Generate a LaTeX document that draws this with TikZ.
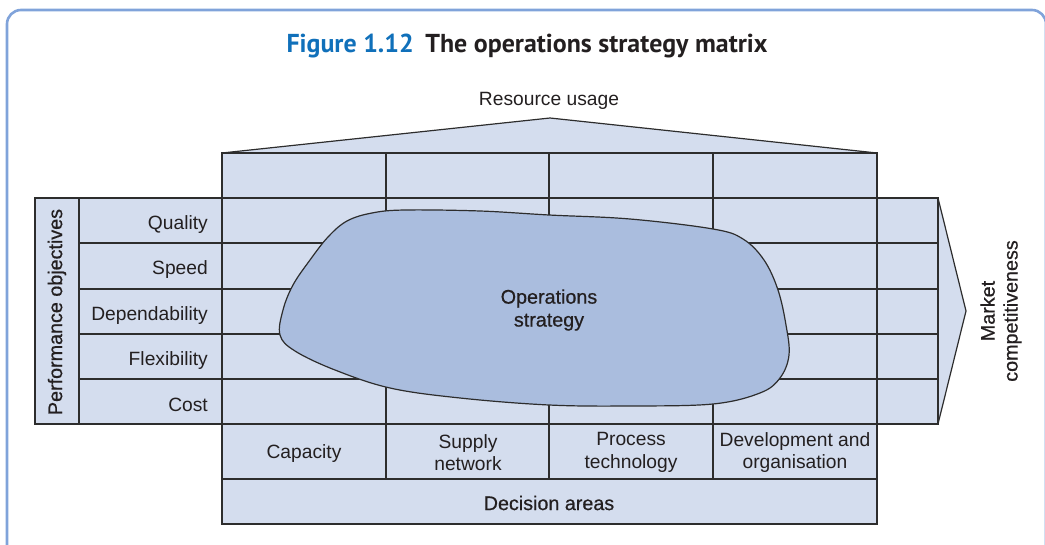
\documentclass[tikz,border=0pt]{standalone}
\usepackage{fontspec}
\setmainfont{Liberation Sans}
\newfontfamily\titlefont{PT Sans}
\newfontfamily\medfont[FakeBold=0.6]{Liberation Sans}
\definecolor{cellfill}{RGB}{212,221,238}
\definecolor{blobfill}{RGB}{170,189,222}
\definecolor{framecol}{RGB}{128,163,218}
\definecolor{titleblue}{RGB}{16,112,186}
\definecolor{inkcol}{RGB}{35,31,32}
\definecolor{linecol}{RGB}{45,45,45}
\tikzset{
  cell/.style={fill=cellfill, draw=linecol, line width=1.2bp},
  gridline/.style={draw=linecol, line width=1.2bp},
  blob/.style={fill=blobfill, draw=linecol, line width=1.2bp},
  lbl/.style={inner sep=0pt, text=inkcol, font=\fontsize{19.3}{22.5}\selectfont, align=center},
  rowlbl/.style={lbl, anchor=base east},
  headlbl/.style={lbl, font=\medfont\fontsize{19.8}{23}\selectfont},
}
\begin{document}
\begin{tikzpicture}[x=1bp, y=-1bp]
\useasboundingbox (0,0) rectangle (1045,545);
% frame
\draw[framecol, line width=2.6bp, rounded corners=14bp] (7,10) rectangle (1046,560);
% title
\node[anchor=base, inner sep=0pt] (title) at (527,53) {\titlefont\bfseries\fontsize{26}{29}\selectfont\color{titleblue}Figure 1.12\hspace{0.45em}\color{inkcol}The operations strategy matrix};
% roof
\draw[cell, line join=bevel] (222,153) -- (550,118) -- (877,153) -- cycle;
% top row
\draw[cell] (222,153) rectangle (877,198);
% left panel
\draw[cell] (35,198) rectangle (79,424);
\draw[cell] (79,198) rectangle (222,424);
% main grid
\draw[cell] (222,198) rectangle (877,424);
% right column and arrow
\draw[cell] (938,198) -- (966,311) -- (938,424);
\draw[cell] (877,198) rectangle (938,424);
% bottom rows
\draw[cell] (222,424) rectangle (877,479);
\draw[cell] (222,479) rectangle (877,524);
% grid lines
\foreach \yy in {243,289,334,379} \draw[gridline] (79,\yy) -- (938,\yy);
\foreach \xx in {386,549,713} \draw[gridline] (\xx,153) -- (\xx,479);
% blob
\draw[blob] plot[smooth cycle, tension=0.6] coordinates {
 (280,335) (283,310) (293,285) (310,260) (328,237) (347,221) (372,213) (405,210)
 (480,211) (549,215) (630,219) (713,229) (743,239) (764,260) (778,290)
 (786,325) (789,355) (780,378) (760,393) (713,404) (630,406) (549,405)
 (460,398) (390,388) (335,370) (295,351)};
% labels
\node[lbl] (res) at (549,101) {Resource usage};
\node[rowlbl] (q) at (208,229.5) {Quality};
\node[rowlbl] (s) at (208,275) {Speed};
\node[rowlbl] (d) at (208,320.5) {Dependability};
\node[rowlbl] (f) at (208,365.5) {Flexibility};
\node[rowlbl] (c) at (208,411) {Cost};
\node[headlbl, rotate=90] (perf) at (57,312) {Performance objectives};
\node[headlbl, rotate=90] (mkt) at (1001,311) {Market\\competitiveness};
\node[headlbl] (strat) at (549,310) {Operations\\strategy};
\node[lbl] (cap) at (304,453.5) {Capacity};
\node[lbl] (sup) at (468,452.5) {Supply\\network};
\node[lbl] (proc) at (631,452.5) {Process\\technology};
\node[lbl] (dev) at (795,452.5) {Development and\\organisation};
\node[headlbl] (dec) at (549,503) {Decision areas};
\end{tikzpicture}
\end{document}
